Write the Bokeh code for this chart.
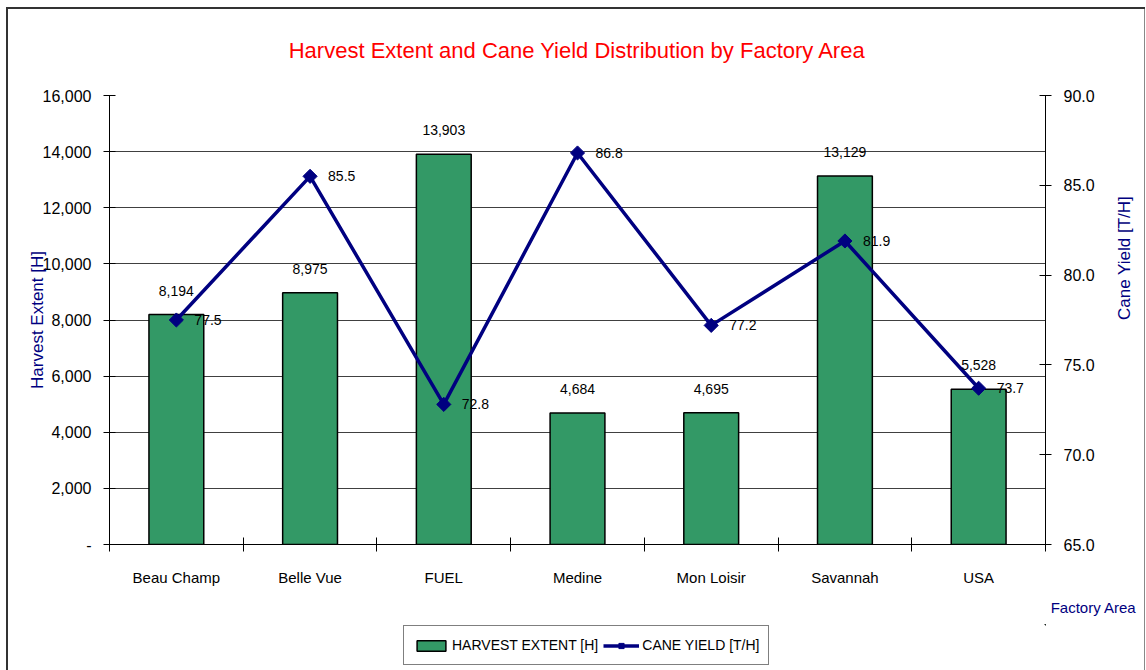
import math
from bokeh.plotting import figure
from bokeh.layouts import column
from bokeh.core.properties import value
from bokeh.models import (Range1d, LinearAxis, FixedTicker, CustomJSTickFormatter,
                          NumeralTickFormatter, ColumnDataSource, LabelSet,
                          Legend, LegendItem, Title)
from bokeh.embed import file_html
from bokeh.resources import INLINE

# ---- data ----
categories = ["Beau Champ", "Belle Vue", "FUEL", "Medine", "Mon Loisir", "Savannah", "USA"]
harvest_extent = [8194, 8975, 13903, 4684, 4695, 13129, 5528]
cane_yield = [77.5, 85.5, 72.8, 86.8, 77.2, 81.9, 73.7]
left_ticks = [0, 2000, 4000, 6000, 8000, 10000, 12000, 14000, 16000]
right_ticks = [65, 70, 75, 80, 85, 90]

title_text = "Harvest Extent and Cane Yield Distribution by Factory Area"
left_title = "Harvest Extent [H]"
right_title = "Cane Yield [T/H]"
x_title = "Factory Area"
bar_legend = "HARVEST EXTENT [H]"
line_legend = "CANE YIELD [T/H]"

FONT = "Liberation Sans"
NAVY = "#000080"
GREEN = "#339966"

xs = [i + 0.5 for i in range(len(categories))]
src = ColumnDataSource(dict(
    x=xs,
    top=harvest_extent,
    yld=cane_yield,
    top_txt=[f"{v:,}" for v in harvest_extent],
    yld_txt=[f"{v:.1f}" for v in cane_yield],
))

p = figure(width=1146, height=624, output_backend="svg", toolbar_location=None,
           x_range=Range1d(0, len(categories)), y_range=Range1d(left_ticks[0], left_ticks[-1]),
           min_border_left=109, min_border_right=95, min_border_top=95, min_border_bottom=80,
           background_fill_color="white", border_fill_color=None)
p.outline_line_color = None
p.extra_y_ranges = {"yield": Range1d(right_ticks[0], right_ticks[-1])}

# title
p.title.text = title_text
p.title.align = "center"
p.title.text_font = FONT
p.title.text_font_size = "22px"
p.title.text_font_style = "normal"
p.title.text_color = "#FF0000"
p.title.standoff = 65

# x axis
xa = p.xaxis[0]
xa.ticker = FixedTicker(ticks=xs, minor_ticks=list(range(len(categories) + 1)))
xa.formatter = CustomJSTickFormatter(args=dict(labels=categories), code="""
const i = Math.round(tick - 0.5);
return (i >= 0 && i < labels.length) ? labels[i] : '';
""")
xa.major_tick_in = 0
xa.major_tick_out = 0
xa.minor_tick_in = 7
xa.minor_tick_out = 7
xa.minor_tick_line_color = "black"
xa.axis_line_color = "black"
xa.major_label_text_font = FONT
xa.major_label_text_font_size = "15px"
xa.major_label_text_color = "black"
xa.major_label_standoff = 17

# left axis
ya = p.yaxis[0]
ya.ticker = FixedTicker(ticks=left_ticks)
ya.formatter = NumeralTickFormatter(format="0,0")
ya.major_label_overrides = {0: "-"}
ya.major_tick_in = 6
ya.major_tick_out = 6
ya.minor_tick_line_color = None
ya.axis_line_color = "black"
ya.major_tick_line_color = "black"
ya.major_label_text_font = FONT
ya.major_label_text_font_size = "16px"
ya.major_label_text_color = "black"
ya.major_label_standoff = 12
ya.axis_label = left_title
ya.axis_label_text_font = FONT
ya.axis_label_text_font_size = "17px"
ya.axis_label_text_font_style = "normal"
ya.axis_label_text_color = NAVY
ya.axis_label_standoff = -7

# right axis
ra = LinearAxis(y_range_name="yield", ticker=FixedTicker(ticks=right_ticks),
                formatter=NumeralTickFormatter(format="0.0"))
ra.major_tick_in = 6
ra.major_tick_out = 6
ra.minor_tick_line_color = None
ra.axis_line_color = "black"
ra.major_tick_line_color = "black"
ra.major_label_text_font = FONT
ra.major_label_text_font_size = "16px"
ra.major_label_text_color = "black"
ra.major_label_standoff = 12
ra.axis_label = right_title
ra.axis_label_text_font = FONT
ra.axis_label_text_font_size = "17px"
ra.axis_label_text_font_style = "normal"
ra.axis_label_text_color = NAVY
ra.axis_label_standoff = 27
if "axis_label_orientation" in ra.properties():
    ra.axis_label_orientation = math.pi / 2
p.add_layout(ra, "right")

# grid
p.xgrid.visible = False
p.ygrid.ticker = FixedTicker(ticks=left_ticks)
p.ygrid.grid_line_color = "#404040"
p.ygrid.grid_line_width = 1

# bars
bars = p.vbar(x="x", top="top", width=0.41, source=src, fill_color=GREEN,
              line_color="black", line_width=1.5)

# line + markers
ln = p.line(x="x", y="yld", source=src, y_range_name="yield", line_color=NAVY, line_width=3.5)
mk = p.scatter(x="x", y="yld", source=src, y_range_name="yield", marker="square",
               angle=math.pi / 4, size=10, fill_color=NAVY, line_color=NAVY)

# data labels
p.add_layout(LabelSet(x="x", y="top", text="top_txt", source=src, text_align="center",
                      text_baseline="alphabetic", y_offset=19, text_font=value(FONT),
                      text_font_size="14px", text_color="black"))
p.add_layout(LabelSet(x="x", y="yld", text="yld_txt", source=src, y_range_name="yield",
                      text_align="left", text_baseline="middle", x_offset=18,
                      text_font=value(FONT), text_font_size="14px", text_color="black"))

# x-axis title at the right
xt = Title(text=x_title, align="right", offset=-91, standoff=16, text_font=FONT,
           text_font_size="15px", text_font_style="normal", text_color=NAVY)
p.add_layout(xt, "below")

# legend strip (second figure below the chart; the proxies use the same data,
# but its ranges keep them far out of view, so only their legend glyphs show)
p2 = figure(width=1146, height=46, output_backend="svg", toolbar_location=None,
            x_range=Range1d(-50, -49), y_range=Range1d(-1000, -999),
            x_axis_type=None, y_axis_type=None,
            min_border=0, background_fill_color=None, border_fill_color=None)
p2.outline_line_color = None
p2.grid.visible = False
b2 = p2.vbar(x="x", top="top", width=0.41, source=src, fill_color=GREEN,
             line_color="black", line_width=1.5)
l2 = p2.line(x="x", y="yld", source=src, line_color=NAVY, line_width=3.5)
m2 = p2.scatter(x="x", y="yld", source=src, marker="square", angle=math.pi / 4, size=10,
                fill_color=NAVY, line_color=NAVY)

legend = Legend(items=[LegendItem(label=bar_legend, renderers=[b2]),
                       LegendItem(label=line_legend, renderers=[l2, m2])],
                orientation="horizontal", location=(294, 5))
legend.label_text_font = FONT
legend.label_text_font_size = "14px"
legend.label_text_color = "black"
legend.glyph_width = 36
legend.glyph_height = 13
legend.label_height = 20
legend.label_standoff = 3
legend.spacing = 5
legend.padding = 9
legend.margin = 0
legend.border_line_color = "black"
legend.border_line_width = 1
legend.background_fill_color = "white"
legend.background_fill_alpha = 1
p2.add_layout(legend)

layout = column(p, p2, spacing=0)
layout.styles = {
    "background": ("linear-gradient(#333333,#333333) 6px 7px / 2px 100% no-repeat, "
                   "linear-gradient(#333333,#333333) 6px 7px / 1139px 2px no-repeat, "
                   "linear-gradient(#888888,#888888) 1144px 7px / 1px 100% no-repeat, white"),
}

open("out.html", "w").write(file_html(layout, INLINE))
